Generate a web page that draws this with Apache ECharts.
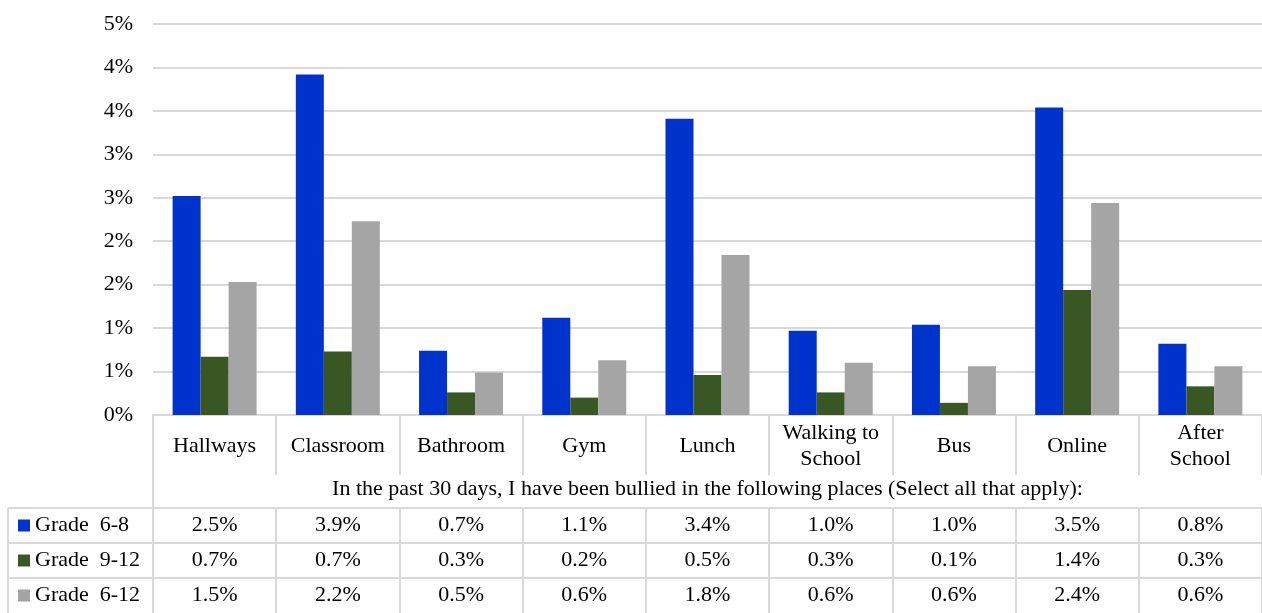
<!DOCTYPE html>
<html>
<head>
<meta charset="utf-8">
<title>Bullying locations</title>
<script src="https://cdn.jsdelivr.net/npm/echarts@6/dist/echarts.min.js"></script>
<style>
  html, body { margin: 0; padding: 0; background: #fff; }
  #chart { width: 1262px; height: 613px; }
</style>
</head>
<body>
<div id="chart"></div>
<script>
// values in percent
const places = ['Hallways', 'Classroom', 'Bathroom', 'Gym', 'Lunch', 'Walking to\nSchool', 'Bus', 'Online', 'After\nSchool']
const grade68 = [2.52, 3.92, 0.74, 1.12, 3.41, 0.97, 1.04, 3.54, 0.82]
const grade912 = [0.67, 0.73, 0.26, 0.20, 0.46, 0.26, 0.14, 1.44, 0.33]
const grade612 = [1.53, 2.23, 0.49, 0.63, 1.84, 0.60, 0.56, 2.44, 0.56]
const seriesNames = ['Grade  6-8', 'Grade  9-12', 'Grade  6-12']
const colors = ['#0033CC', '#385723', '#A5A5A5']
const yTicks = [0, 0.5, 1, 1.5, 2, 2.5, 3, 3.5, 4, 4.5]
const tableTitle = 'In the past 30 days, I have been bullied in the following places (Select all that apply):'

const FONT = '"Liberation Serif", "DejaVu Serif", serif'
const FS = 22
const LINE = '#D9D9D9'
const GRID_LEFT = 153
const GRID_TOP = 24
const AXIS_Y = 415
const TITLE_ROW = 93     // from axis line to first data row
const ROW_H = 35

function rowAxis(values, i) {
  return {
    type: 'category',
    gridIndex: 0,
    position: 'bottom',
    offset: TITLE_ROW + i * ROW_H,
    data: places,
    axisLine: { show: true, lineStyle: { color: LINE, width: 2 } },
    axisTick: { show: true, interval: 0, length: ROW_H, lineStyle: { color: LINE, width: 2 } },
    axisLabel: {
      interval: 0,
      hideOverlap: false,
      margin: ROW_H / 2,
      verticalAlign: 'middle',
      fontFamily: FONT,
      fontSize: FS,
      color: '#000',
      formatter: (v, idx) => values[idx].toFixed(1) + '%'
    }
  }
}

const chart = echarts.init(document.getElementById('chart'))

const graphicLines = []
// legend column borders
for (let i = 0; i < 3; i++) {
  const y = AXIS_Y + TITLE_ROW + i * ROW_H
  graphicLines.push({ type: 'line', shape: { x1: 8, y1: y, x2: GRID_LEFT, y2: y }, style: { stroke: LINE, lineWidth: 2 } })
}
graphicLines.push({ type: 'line', shape: { x1: 8, y1: AXIS_Y + TITLE_ROW, x2: 8, y2: 613 }, style: { stroke: LINE, lineWidth: 2 } })
graphicLines.push({ type: 'line', shape: { x1: GRID_LEFT, y1: AXIS_Y, x2: GRID_LEFT, y2: AXIS_Y + TITLE_ROW }, style: { stroke: LINE, lineWidth: 2 } })

const option = {
  animation: false,
  backgroundColor: '#fff',
  color: colors,
  grid: {
    left: GRID_LEFT,
    right: 0,
    top: GRID_TOP,
    bottom: 613 - AXIS_Y,
    containLabel: false,
    outerBoundsMode: 'none'
  },
  legend: {
    data: seriesNames,
    orient: 'vertical',
    left: 18,
    top: AXIS_Y + TITLE_ROW + ROW_H / 2 - 11,
    padding: 0,
    itemGap: ROW_H - 22,
    itemWidth: 12,
    itemHeight: 12,
    icon: 'rect',
    selectedMode: false,
    textStyle: { fontFamily: FONT, fontSize: FS, color: '#000', lineHeight: 22 }
  },
  xAxis: [
    {
      type: 'category',
      gridIndex: 0,
      data: places,
      name: tableTitle,
      nameLocation: 'middle',
      nameGap: 74,
      nameMoveOverlap: false,
      nameTextStyle: { fontFamily: FONT, fontSize: FS, color: '#000', verticalAlign: 'middle' },
      axisLine: { show: true, lineStyle: { color: LINE, width: 2 } },
      axisTick: { show: true, interval: 0, length: 60, lineStyle: { color: LINE, width: 2 } },
      axisLabel: {
        interval: 0,
        hideOverlap: false,
        margin: 31,
        verticalAlign: 'middle',
        lineHeight: 26,
        fontFamily: FONT,
        fontSize: FS,
        color: '#000'
      }
    },
    rowAxis(grade68, 0),
    rowAxis(grade912, 1),
    rowAxis(grade612, 2)
  ],
  yAxis: {
    type: 'value',
    min: 0,
    max: yTicks[yTicks.length - 1],
    interval: yTicks[1] - yTicks[0],
    axisLine: { show: false },
    axisTick: { show: false },
    splitLine: { lineStyle: { color: LINE, width: 2 } },
    axisLabel: {
      margin: 20,
      fontFamily: FONT,
      fontSize: FS,
      color: '#000',
      formatter: v => Math.round(v) + '%'
    }
  },
  series: [
    { name: seriesNames[0], type: 'bar', data: grade68, barWidth: 28, barGap: '0%', itemStyle: { color: colors[0] } },
    { name: seriesNames[1], type: 'bar', data: grade912, barWidth: 28, barGap: '0%', itemStyle: { color: colors[1] } },
    { name: seriesNames[2], type: 'bar', data: grade612, barWidth: 28, barGap: '0%', itemStyle: { color: colors[2] } }
  ],
  graphic: graphicLines
}

chart.setOption(option)
</script>
</body>
</html>
